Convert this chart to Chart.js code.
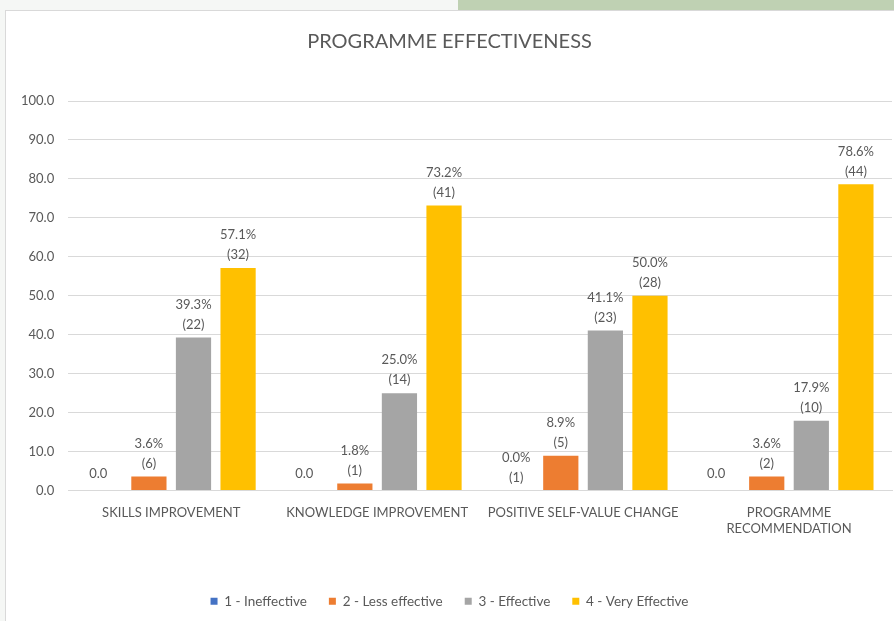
<!DOCTYPE html>
<html>
<head>
<meta charset="utf-8">
<script src="https://cdn.jsdelivr.net/npm/chart.js@4.4.1/dist/chart.umd.min.js"></script>
<style>
  html, body { margin: 0; padding: 0; }
  body { width: 894px; height: 621px; background: #f5f7f5; position: relative; overflow: hidden; }
  .band { position: absolute; left: 458px; top: 0; width: 436px; height: 10px; background: #bfd1b3; }
  .box { position: absolute; left: 5px; top: 10px; width: 900px; height: 620px; background: #fff;
         border-left: 1px solid #d9d9d9; border-top: 1px solid #d9d9d9; }
  .box canvas { position: absolute; left: 0; top: 0; }
</style>
</head>
<body>
<div class="band"></div>
<div class="box"><canvas id="chart" width="888" height="610"></canvas></div>
<script>
// categories + series (percent of respondents, with counts in brackets)
const categories = ['SKILLS IMPROVEMENT', 'KNOWLEDGE IMPROVEMENT', 'POSITIVE SELF-VALUE CHANGE', ['PROGRAMME', 'RECOMMENDATION']];
const seriesNames = ['1 - Ineffective', '2 - Less effective', '3 - Effective', '4 - Very Effective'];
const ineffective   = [0.0, 0.0, 0.0, 0.0];
const lessEffective = [3.6, 1.8, 8.9, 3.6];
const effective     = [39.3, 25.0, 41.1, 17.9];
const veryEffective = [57.1, 73.2, 50.0, 78.6];
const ineffectiveN   = [null, null, 1, null];
const lessEffectiveN = [6, 1, 5, 2];
const effectiveN     = [22, 14, 23, 10];
const veryEffectiveN = [32, 41, 28, 44];
const yTicks = [0, 10, 20, 30, 40, 50, 60, 70, 80, 90, 100];
const colors = ['#4472c4', '#ed7d31', '#a5a5a5', '#ffc000'];

const TXT = '#595959';
const FONT = 'Lato, "Liberation Sans", sans-serif';

const mk = (i, data, counts) => ({
  label: seriesNames[i], data, counts,
  backgroundColor: colors[i], borderWidth: 0,
  categoryPercentage: 0.866, barPercentage: 0.79
});

// value labels above the bars, "xx.x%" then "(n)"
const barLabels = {
  id: 'barLabels',
  afterDatasetsDraw(chart) {
    const ctx = chart.ctx;
    ctx.save();
    ctx.fillStyle = TXT;
    ctx.font = '13px ' + FONT;
    ctx.textAlign = 'center';
    ctx.textBaseline = 'middle';
    chart.data.datasets.forEach((ds, i) => {
      chart.getDatasetMeta(i).data.forEach((bar, j) => {
        const v = ds.data[j], n = ds.counts[j];
        if (n == null) {
          ctx.fillText(v.toFixed(1), bar.x - 6, bar.y - 17);
        } else {
          ctx.fillText('(' + n + ')', bar.x, bar.y - 13);
          ctx.fillText(v.toFixed(1) + '%', bar.x, bar.y - 33);
        }
      });
    });
    ctx.restore();
  }
};

new Chart(document.getElementById('chart').getContext('2d'), {
  type: 'bar',
  data: {
    labels: categories,
    datasets: [
      mk(0, ineffective, ineffectiveN),
      mk(1, lessEffective, lessEffectiveN),
      mk(2, effective, effectiveN),
      mk(3, veryEffective, veryEffectiveN)
    ]
  },
  options: {
    responsive: false,
    animation: false,
    layout: { padding: { left: 1, right: 2, top: 0, bottom: 3 } },
    plugins: {
      title: {
        display: true, text: 'PROGRAMME EFFECTIVENESS', color: TXT,
        font: { family: FONT, size: 20, weight: 'normal' },
        padding: { top: 19, bottom: 47 }
      },
      legend: {
        position: 'bottom',
        labels: { color: TXT, boxWidth: 7, boxHeight: 7, padding: 22, font: { family: FONT, size: 13.5 } }
      },
      tooltip: { enabled: false }
    },
    scales: {
      x: {
        grid: { display: false },
        border: { color: '#d9d9d9' },
        ticks: { color: TXT, padding: 7, maxRotation: 0, autoSkip: false, font: { family: FONT, size: 13 } },
        afterFit(scale) { scale.height = 82; }
      },
      y: {
        min: 0, max: 100,
        afterBuildTicks(scale) { scale.ticks = yTicks.map(v => ({ value: v })); },
        grid: { color: '#d9d9d9', drawTicks: false },
        border: { display: false },
        ticks: { color: TXT, padding: 14, font: { family: FONT, size: 13 }, callback: v => v.toFixed(1) }
      }
    }
  },
  plugins: [barLabels]
});
</script>
</body>
</html>
